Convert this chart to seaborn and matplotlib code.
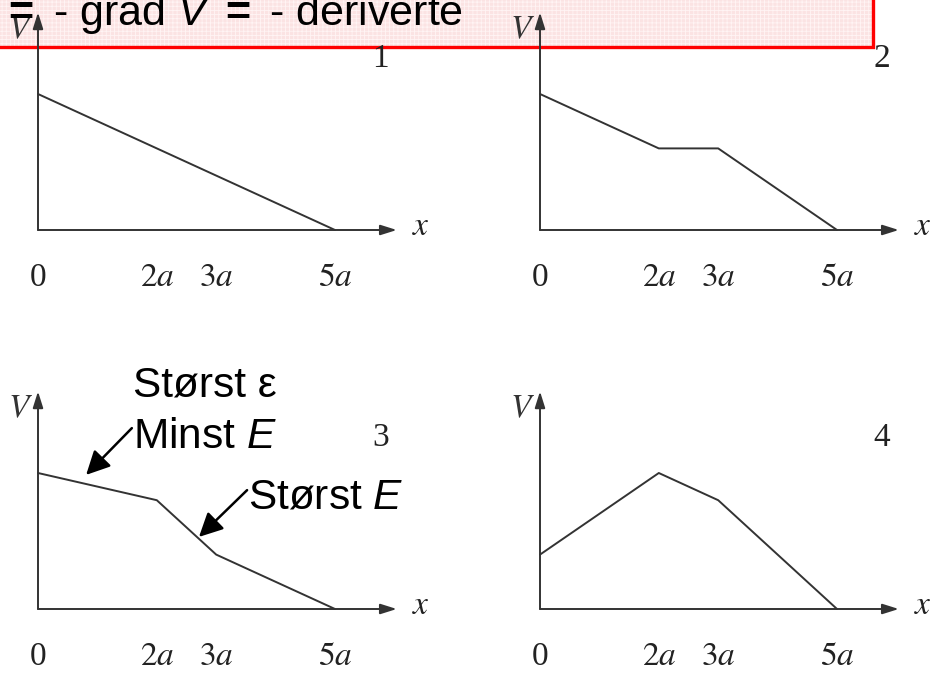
import matplotlib
matplotlib.use("Agg")
import matplotlib.pyplot as plt
import matplotlib.patches as mpatches
import seaborn as sns
import pandas as pd

# data: potential V at x = 0, 2a, 3a, 5a for the four cases
x_pos = [0, 2, 3, 5]
tick_labels = ["0", "2a", "3a", "5a"]
v1 = [5, 3, 2, 0]
v2 = [5, 3, 3, 0]
v3 = [5, 4, 2, 0]
v4 = [2, 5, 4, 0]
panel_names = ["1", "2", "3", "4"]

sns.set_style("white")
plt.rcParams["font.family"] = ["Liberation Sans", "DejaVu Sans"]
plt.rcParams["mathtext.fontset"] = "custom"
plt.rcParams["mathtext.rm"] = "Liberation Sans"
plt.rcParams["mathtext.it"] = "Liberation Sans:italic"
plt.rcParams["mathtext.bf"] = "Liberation Sans:bold"
plt.rcParams["hatch.linewidth"] = 0.6

W, H = 944, 675
fig = plt.figure(figsize=(W / 100, H / 100), dpi=100)

a_px = 59.4     # pixels per a
v_px = 27.2     # pixels per V unit
xlim = (-0.6, 7.0)
ylim = (-2.5, 8.4)
ink = "#333333"
serif = ["Liberation Serif", "DejaVu Serif"]


def make_ax(ox, oy):
    # ox, oy: origin of the panel in pixels (from top left)
    left = ox + xlim[0] * a_px
    right = ox + xlim[1] * a_px
    bottom = oy - ylim[0] * v_px
    top = oy - ylim[1] * v_px
    ax = fig.add_axes([left / W, (H - bottom) / H, (right - left) / W, (bottom - top) / H])
    ax.set_xlim(*xlim)
    ax.set_ylim(*ylim)
    ax.axis("off")
    return ax


def draw_panel(ax, values, name):
    df = pd.DataFrame({"x": x_pos, "V": values})
    sns.lineplot(data=df, x="x", y="V", ax=ax, color=ink, lw=1.4, sort=False)
    arrow = dict(arrowstyle="-|>,head_length=0.7,head_width=0.22", color=ink, lw=1.4,
                 mutation_scale=14, shrinkA=0, shrinkB=0)
    ax.annotate("", xy=(6.04, 0), xytext=(0, 0), arrowprops=arrow)
    ax.annotate("", xy=(0, 8.0), xytext=(0, 0), arrowprops=arrow)
    for xp, lab in zip(x_pos, tick_labels):
        txt = "$" + lab + "$" if lab != "0" else "0"
        ax.text(xp, -2.05, txt, ha="center", va="baseline", fontsize=24, color="#222222",
                family=serif, math_fontfamily="stix", clip_on=False)
    ax.text(6.45, -0.18, "$x$", ha="center", va="baseline", fontsize=24, color="#222222",
            math_fontfamily="stix", clip_on=False)
    ax.text(-0.29, 7.05, "$V$", ha="center", va="baseline", fontsize=24, color="#333333",
            math_fontfamily="stix", clip_on=False)
    ax.text(5.76, 6.0, name, ha="center", va="baseline", fontsize=24, color="#222222",
            family=serif, clip_on=False)


origins = [(38, 230), (540, 230), (38, 609), (540, 609)]
all_values = [v1, v2, v3, v4]
axes = []
for (ox, oy), vals, name in zip(origins, all_values, panel_names):
    ax = make_ax(ox, oy)
    draw_panel(ax, vals, name)
    axes.append(ax)

# annotations in panel 3
ax3 = axes[2]
note_arrow = dict(arrowstyle="-|>,head_length=0.6,head_width=0.3", color="black", lw=1.8,
                  mutation_scale=24, shrinkA=0, shrinkB=0)
ax3.text(1.6, 7.8, "Størst ε", fontsize=30.5, ha="left", va="baseline", color="black",
         family=["Liberation Sans", "DejaVu Sans"], clip_on=False)
ax3.text(1.6, 5.92, r"Minst $E$", fontsize=30.5, ha="left", va="baseline", color="black",
         clip_on=False)
ax3.annotate("", xy=(0.81, 4.93), xytext=(1.58, 6.65), arrowprops=note_arrow)
ax3.text(3.54, 3.71, r"Størst $E$", fontsize=30.5, ha="left", va="baseline", color="black",
         clip_on=False)
ax3.annotate("", xy=(2.71, 2.65), xytext=(3.52, 4.37), arrowprops=note_arrow)

# pink header box, cut by the top left corner
box_left, box_right = -0.05, 873 / W
box_bottom, box_top = (H - 47) / H, 1.05
fill = mpatches.Rectangle((box_left, box_bottom), box_right - box_left, box_top - box_bottom,
                          transform=fig.transFigure, facecolor="#fbe3e3", edgecolor="#fff4f4",
                          hatch="++++", lw=0, zorder=-2)
border = mpatches.Rectangle((box_left, box_bottom), box_right - box_left, box_top - box_bottom,
                            transform=fig.transFigure, facecolor="none", edgecolor="#ff0000",
                            lw=2.4, zorder=-1)
fig.patches.extend([fill, border])
fig.text(463 / W, (H - 25) / H, r"$E$ $\mathbf{=}$ - grad $V$ $\mathbf{=}$ - deriverte",
         ha="right", va="baseline", fontsize=31, color="black", zorder=5)

fig.savefig("out.png", dpi=100, facecolor="white")
